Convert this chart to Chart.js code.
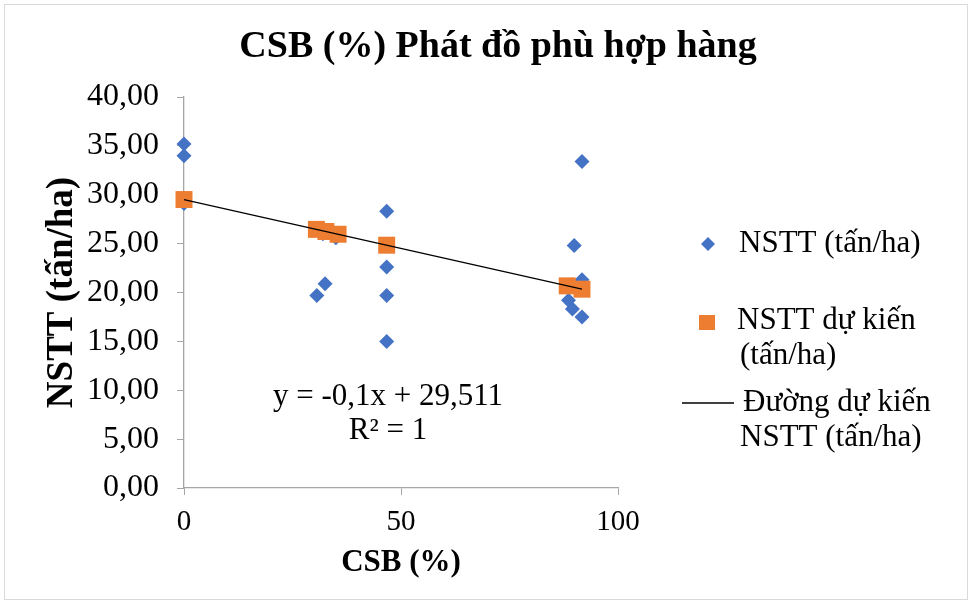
<!DOCTYPE html>
<html lang="vi">
<head>
<meta charset="utf-8">
<title>CSB (%) Phát đồ phù hợp hàng</title>
<script src="https://cdn.jsdelivr.net/npm/chart.js@4/dist/chart.umd.min.js"></script>
<style>
    html, body { margin: 0; padding: 0; background: #fff; }
    canvas { display: block; }
</style>
</head>
<body>
<canvas id="chart" width="973" height="605"></canvas>
<script>
// measured yield per field: CSB (%) -> NSTT (tấn/ha)
const csb  = [0, 0, 0, 30.6, 32.5, 32, 35, 46.7, 46.7, 46.7, 46.7, 91.7, 89.9, 91.7, 88.6, 89.5, 91.7];
const nstt = [35.2, 34.0, 29.1, 19.7, 20.9, 26.0, 25.6, 28.3, 22.6, 19.7, 15.0, 33.4, 24.8, 21.3, 19.2, 18.3, 17.5];

// predicted yield
const csbPredicted  = [0, 30.5, 32.7, 35.5, 46.7, 88.3, 91.7];
const nsttPredicted = [29.51, 26.46, 26.24, 25.96, 24.84, 20.68, 20.34];

// fitted line y = slope * x + intercept
const slope = -0.1;
const intercept = 29.511;
const rSquared = 1;
const fitRange = [0, 91.7];

const xTicks = [0, 50, 100];
const yTicks = [0, 5, 10, 15, 20, 25, 30, 35, 40];

const chartTitle = "CSB (%) Phát đồ phù hợp hàng";
const seriesNames = ["NSTT (tấn/ha)", "NSTT dự kiến (tấn/ha)", "Đường dự kiến NSTT (tấn/ha)"];

const BLUE = "#4472C4";
const ORANGE = "#ED7D31";
const AXIS = "#a6a6a6";
const SERIF = "'Liberation Serif', 'Times New Roman', serif";

const fmt = v => v.toFixed(2).replace(".", ",");
const fmtNum = v => String(v).replace(".", ",");

// title, equation text, legend and outer border
const extras = {
    id: "extras",
    afterDraw(chart) {
        const ctx = chart.ctx;
        ctx.save();

        ctx.strokeStyle = "#d9d9d9";
        ctx.lineWidth = 1;
        ctx.strokeRect(4.5, 4.5, 963, 595);

        ctx.fillStyle = "#000";
        ctx.textAlign = "center";
        ctx.textBaseline = "middle";
        ctx.font = "bold 38px " + SERIF;
        ctx.fillText(chartTitle, 498, 47);

        ctx.font = "31px " + SERIF;
        const sign = intercept >= 0 ? " + " : " - ";
        ctx.fillText("y = " + fmtNum(slope) + "x" + sign + fmtNum(Math.abs(intercept)), 388, 397);
        ctx.fillText("R² = " + rSquared, 388, 431);

        // legend
        ctx.textAlign = "left";
        ctx.font = "31px " + SERIF;

        ctx.fillStyle = BLUE;
        ctx.beginPath();
        ctx.moveTo(708, 237);
        ctx.lineTo(715, 244);
        ctx.lineTo(708, 251);
        ctx.lineTo(701, 244);
        ctx.closePath();
        ctx.fill();
        ctx.fillStyle = "#000";
        ctx.fillText(seriesNames[0], 739, 244);

        ctx.fillStyle = ORANGE;
        ctx.fillRect(699, 315, 16, 15);
        ctx.fillStyle = "#000";
        ctx.fillText("NSTT dự kiến", 737, 321);
        ctx.fillText("(tấn/ha)", 740, 356);

        ctx.strokeStyle = "#000";
        ctx.lineWidth = 1.5;
        ctx.beginPath();
        ctx.moveTo(682, 403);
        ctx.lineTo(734, 403);
        ctx.stroke();
        ctx.fillText("Đường dự kiến", 743, 403);
        ctx.fillText("NSTT (tấn/ha)", 740, 438);

        ctx.restore();
    }
};

new Chart(document.getElementById("chart"), {
    type: "scatter",
    data: {
        datasets: [
            {
                label: seriesNames[2],
                type: "line",
                data: fitRange.map(x => ({ x: x, y: slope * x + intercept })),
                borderColor: "#000",
                borderWidth: 1.3,
                pointRadius: 0,
                fill: false,
                clip: false,
                order: 0
            },
            {
                label: seriesNames[1],
                data: csbPredicted.map((x, i) => ({ x: x, y: nsttPredicted[i] })),
                backgroundColor: ORANGE,
                borderColor: ORANGE,
                borderWidth: 0,
                pointStyle: "rect",
                pointRadius: 12,
                clip: false,
                order: 1
            },
            {
                label: seriesNames[0],
                data: csb.map((x, i) => ({ x: x, y: nstt[i] })),
                backgroundColor: BLUE,
                borderColor: BLUE,
                borderWidth: 0,
                pointStyle: "rectRot",
                pointRadius: 7.5,
                clip: false,
                order: 2
            }
        ]
    },
    options: {
        responsive: false,
        devicePixelRatio: 1,
        animation: false,
        layout: { padding: { left: 0, right: 355, top: 97, bottom: 0 } },
        plugins: {
            legend: { display: false },
            tooltip: { enabled: false },
            title: { display: false }
        },
        scales: {
            x: {
                type: "linear",
                min: xTicks[0],
                max: xTicks[xTicks.length - 1],
                afterBuildTicks: s => { s.ticks = xTicks.map(v => ({ value: v })); },
                afterFit: s => { s.height = 117; },
                grid: { drawOnChartArea: false, color: AXIS, tickLength: 7 },
                border: { color: AXIS, width: 1.3 },
                ticks: {
                    color: "#000",
                    padding: 10,
                    maxRotation: 0,
                    font: { family: SERIF, size: 29 }
                },
                title: {
                    display: true,
                    text: "CSB (%)",
                    color: "#000",
                    font: { family: SERIF, size: 31, weight: "bold", lineHeight: 1.2 },
                    padding: { top: 0, bottom: 23 }
                }
            },
            y: {
                type: "linear",
                min: yTicks[0],
                max: yTicks[yTicks.length - 1],
                afterBuildTicks: s => { s.ticks = yTicks.map(v => ({ value: v })); },
                afterFit: s => { s.width = 184; },
                grid: { drawOnChartArea: false, color: AXIS, tickLength: 7 },
                border: { color: AXIS, width: 1.3 },
                ticks: {
                    color: "#000",
                    padding: 18,
                    font: { family: SERIF, size: 32 },
                    callback: v => fmt(v)
                },
                title: {
                    display: true,
                    text: "NSTT (tấn/ha)",
                    color: "#000",
                    font: { family: SERIF, size: 37, weight: "bold", lineHeight: 1.2 },
                    padding: { top: 40, bottom: 0 }
                }
            }
        }
    },
    plugins: [extras]
});
</script>
</body>
</html>
